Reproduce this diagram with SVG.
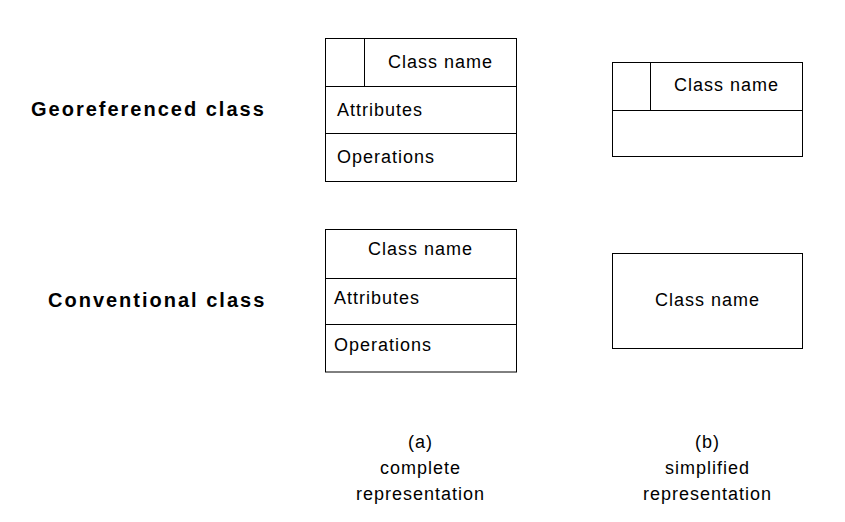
<svg xmlns="http://www.w3.org/2000/svg" width="845" height="522" viewBox="0 0 845 522">
<style>
.box{fill:#fff;stroke:#000;stroke-width:1}
.ln{stroke:#000;stroke-width:1;fill:none}
.t{font-family:"Liberation Sans",Arial,sans-serif;font-size:18px;letter-spacing:1px;fill:#000}
.m{text-anchor:middle}
.h{font-family:"Liberation Sans",Arial,sans-serif;font-size:20px;font-weight:bold;letter-spacing:2px;fill:#000}
</style>
<rect width="845" height="522" fill="#fff"/>
<g id="label-georef"><text class="h" x="31" y="116">Georeferenced class</text></g>
<g id="label-conv"><text class="h" x="48" y="307">Conventional class</text></g>
<g id="georef-complete">
<rect class="box" x="325.5" y="38.5" width="191" height="143"/>
<path class="ln" d="M325.5 86.5H516.5M325.5 133.5H516.5M364.5 38.5V86.5"/>
<text class="t m" x="440.5" y="68">Class name</text>
<text class="t" x="337" y="116">Attributes</text>
<text class="t" x="337" y="163">Operations</text>
</g>
<g id="georef-simplified">
<rect class="box" x="612.5" y="62.5" width="190" height="94"/>
<path class="ln" d="M612.5 110.5H802.5M650.5 62.5V110.5"/>
<text class="t m" x="726.5" y="90.5">Class name</text>
</g>
<g id="conv-complete">
<rect class="box" x="325.5" y="229.5" width="191" height="142.5"/>
<path class="ln" d="M325.5 278.5H516.5M325.5 324.5H516.5"/>
<text class="t m" x="420.5" y="254.5">Class name</text>
<text class="t" x="334" y="303.5">Attributes</text>
<text class="t" x="334" y="350.5">Operations</text>
</g>
<g id="conv-simplified">
<rect class="box" x="612.5" y="253.5" width="190" height="95"/>
<text class="t m" x="707.5" y="305.5">Class name</text>
</g>
<g id="caption-a">
<text class="t m" x="420.5" y="448">(a)</text>
<text class="t m" x="420.5" y="474">complete</text>
<text class="t m" x="420.5" y="500">representation</text>
</g>
<g id="caption-b">
<text class="t m" x="707.5" y="448">(b)</text>
<text class="t m" x="707.5" y="474">simplified</text>
<text class="t m" x="707.5" y="500">representation</text>
</g>
<g id="connectors"></g>
</svg>
